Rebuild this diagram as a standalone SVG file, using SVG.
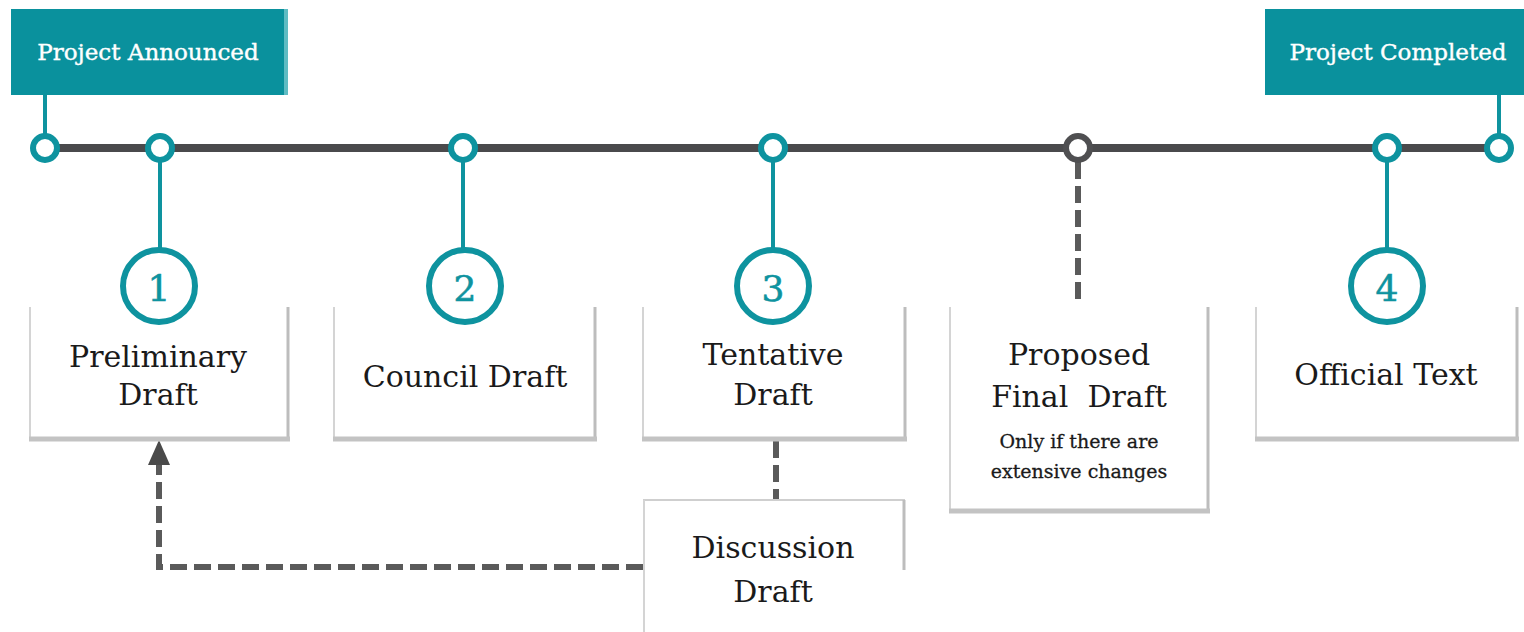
<svg xmlns="http://www.w3.org/2000/svg" width="1524" height="632" viewBox="0 0 1524 632">
<style>
.tl{font-family:"DejaVu Serif","Liberation Serif",serif;font-size:23px;fill:#fff;stroke:#fff;stroke-width:0.4;text-anchor:middle}
.lbl{font-family:"DejaVu Serif","Liberation Serif",serif;font-size:30px;fill:#1a1a1a;text-anchor:middle}
.note{font-family:"DejaVu Serif","Liberation Serif",serif;font-size:19px;fill:#1a1a1a;stroke:#1a1a1a;stroke-width:0.3;text-anchor:middle}
.num{font-family:"DejaVu Serif","Liberation Serif",serif;font-size:36px;fill:#0e939f;stroke:#0e939f;stroke-width:0.6;text-anchor:middle}
.ring{fill:#fff;stroke:#0e939f;stroke-width:6}
.big{fill:#fff;stroke:#0e939f;stroke-width:6}
.stem{stroke:#0e939f;stroke-width:4}
.side{stroke:#d4d4d4;stroke-width:2;fill:none}
.sideR{stroke:#bdbdbd;stroke-width:3;fill:none}
.bot{stroke:#c3c3c3;stroke-width:5;fill:none}
.dash{stroke:#5a5a5a;stroke-width:6;fill:none;stroke-dasharray:17 7}
</style>
<defs>
<clipPath id="clipDisc"><rect x="643" y="500" width="262" height="59"/></clipPath>
</defs>
<rect width="1524" height="632" fill="#fff"/>

<g id="connectors">
<line x1="45" y1="148" x2="1497" y2="148" stroke="#4a4a4c" stroke-width="8"/>
<line class="stem" x1="45" y1="95" x2="45" y2="140"/>
<line class="stem" x1="1499" y1="95" x2="1499" y2="140"/>
<line class="stem" x1="160" y1="160" x2="160" y2="252"/>
<line class="stem" x1="463" y1="160" x2="463" y2="252"/>
<line class="stem" x1="773" y1="160" x2="773" y2="252"/>
<line class="stem" x1="1387" y1="160" x2="1387" y2="252"/>
<line class="dash" x1="1078" y1="162" x2="1078" y2="305"/>
<line class="dash" x1="776" y1="441" x2="776" y2="500"/>
<path class="dash" d="M643 567 H159 V462"/>
<polygon points="159,440 148,465 170,465" fill="#4a4a4a"/>
</g>

<g id="project-announced">
<rect x="11" y="9" width="276" height="86" fill="#0a919d"/>
<rect x="284" y="9" width="4" height="86" fill="#5fbcc3"/>
<text class="tl" x="148" y="60">Project Announced</text>
<circle class="ring" cx="45" cy="148" r="12"/>
</g>

<g id="project-completed">
<rect x="1265" y="9" width="259" height="86" fill="#0a919d"/>
<text class="tl" x="1398" y="60">Project Completed</text>
<circle class="ring" cx="1499" cy="148" r="12"/>
</g>

<g id="milestones">
<circle class="ring" cx="160" cy="148" r="12"/>
<circle class="ring" cx="463" cy="148" r="12"/>
<circle class="ring" cx="773" cy="148" r="12"/>
<circle cx="1078" cy="148" r="12" fill="#fff" stroke="#4f4f51" stroke-width="6"/>
<circle class="ring" cx="1387" cy="148" r="12"/>
</g>

<g id="preliminary-draft">
<line class="side" x1="30" y1="307" x2="30" y2="440"/>
<line class="sideR" x1="288" y1="307" x2="288" y2="440"/>
<line class="bot" x1="29" y1="439" x2="290" y2="439"/>
<circle class="big" cx="159" cy="286" r="36"/>
<text class="num" x="159" y="301">1</text>
<text class="lbl" x="158" y="367">Preliminary</text>
<text class="lbl" x="158" y="405">Draft</text>
</g>

<g id="council-draft">
<line class="side" x1="334" y1="307" x2="334" y2="440"/>
<line class="sideR" x1="595" y1="307" x2="595" y2="440"/>
<line class="bot" x1="333" y1="439" x2="597" y2="439"/>
<circle class="big" cx="465" cy="286" r="36"/>
<text class="num" x="465" y="301">2</text>
<text class="lbl" x="465" y="387">Council Draft</text>
</g>

<g id="tentative-draft">
<line class="side" x1="643" y1="307" x2="643" y2="440"/>
<line class="sideR" x1="905" y1="307" x2="905" y2="440"/>
<line class="bot" x1="642" y1="439" x2="907" y2="439"/>
<circle class="big" cx="773" cy="286" r="36"/>
<text class="num" x="773" y="301">3</text>
<text class="lbl" x="773" y="365">Tentative</text>
<text class="lbl" x="773" y="405">Draft</text>
</g>

<g id="proposed-final-draft">
<line class="side" x1="950" y1="307" x2="950" y2="512"/>
<line class="sideR" x1="1208" y1="307" x2="1208" y2="512"/>
<line class="bot" x1="949" y1="511" x2="1210" y2="511"/>
<text class="lbl" x="1079" y="365">Proposed</text>
<text class="lbl" x="1079" y="407" xml:space="preserve">Final  Draft</text>
<text class="note" x="1079" y="448">Only if there are</text>
<text class="note" x="1079" y="478">extensive changes</text>
</g>

<g id="official-text">
<line class="side" x1="1256" y1="307" x2="1256" y2="440"/>
<line class="sideR" x1="1517" y1="307" x2="1517" y2="440"/>
<line class="bot" x1="1255" y1="439" x2="1519" y2="439"/>
<circle class="big" cx="1387" cy="286" r="36"/>
<text class="num" x="1387" y="301">4</text>
<text class="lbl" x="1386" y="385">Official Text</text>
</g>

<g id="discussion-draft">
<line x1="643" y1="500" x2="905" y2="500" stroke="#cfcfcf" stroke-width="2"/>
<line class="side" x1="644" y1="500" x2="644" y2="632"/>
<line class="sideR" x1="904" y1="500" x2="904" y2="570"/>
<text class="lbl" x="773" y="558" clip-path="url(#clipDisc)">Discussion</text>
<text class="lbl" x="773" y="602">Draft</text>
</g>
</svg>
